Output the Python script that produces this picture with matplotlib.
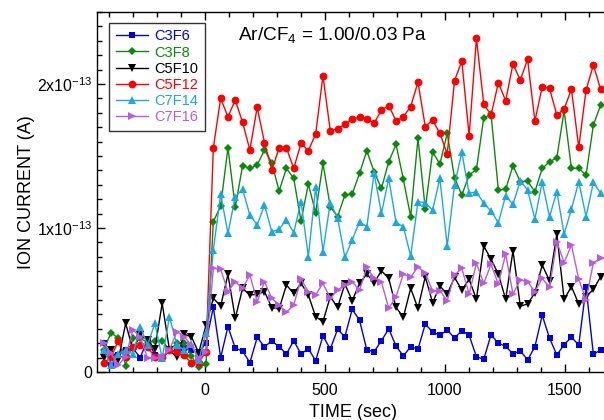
import numpy as np
import matplotlib
matplotlib.use("Agg")
import matplotlib.pyplot as plt
from matplotlib.ticker import MultipleLocator, FixedLocator, FixedFormatter

# -----------------------------
# 1. Data (ion current in units of 1e-13 A)
# -----------------------------

time_s = np.arange(69) * 30.5 - 424

c3f6 = [0.204, 0.049, 0.118, 0.153, 0.164, 0.100, 0.227, 0.118, 0.090, 0.153, 0.141, 0.164, 0.153, 0.130, 0.204,
        0.45, 0.10, 0.315, 0.165, 0.146, 0.065, 0.24, 0.176, 0.215, 0.176, 0.125, 0.217, 0.125, 0.162, 0.078,
        0.25, 0.16, 0.296, 0.245, 0.435, 0.36, 0.153, 0.141, 0.217, 0.30,
        0.18, 0.111, 0.176, 0.158, 0.333, 0.278, 0.255, 0.292, 0.236, 0.287,
        0.255, 0.106, 0.088, 0.259, 0.199, 0.18, 0.125, 0.148, 0.083, 0.176,
        0.394, 0.236, 0.118, 0.19, 0.241, 0.188, 0.588, 0.123, 0.153]

c3f8 = [0.153, 0.273, 0.234, 0.045, 0.234, 0.234, 0.204, 0.215, 0.217, 0.153, 0.199, 0.204, 0.111, 0.032, 0.056,
        1.044, 1.153, 1.558, 1.144, 1.433, 1.414, 1.438, 1.542, 1.454, 1.257, 1.414, 1.345, 1.049, 1.306, 1.106,
        1.449, 1.148, 1.079, 1.229, 1.236, 1.38, 1.535, 1.391, 1.275, 1.46,
        1.581, 1.338, 1.079, 1.623, 1.132, 1.53, 1.444, 1.657, 1.349, 1.229,
        1.368, 1.407, 1.766, 1.789, 1.264, 1.269, 1.433, 1.322, 1.326, 1.252,
        1.414, 1.46, 1.488, 1.815, 1.414, 1.414, 1.368, 1.715, 1.854]

c5f10 = [0.095, 0.153, 0.083, 0.338, 0.153, 0.257, 0.222, 0.16, 0.477, 0.153, 0.102, 0.262, 0.245, 0.134, 0.326,
         0.512, 0.458, 0.678, 0.373, 0.581, 0.535, 0.54, 0.558, 0.447, 0.438, 0.604, 0.546, 0.616, 0.535, 0.384,
         0.35, 0.523, 0.449, 0.611, 0.495, 0.616, 0.68, 0.62, 0.703, 0.65,
         0.449, 0.38, 0.581, 0.442, 0.662, 0.481, 0.597, 0.54, 0.658, 0.569,
         0.644, 0.505, 0.875, 0.783, 0.68, 0.505, 0.842, 0.458, 0.472, 0.551,
         0.743, 0.634, 0.958, 0.505, 0.593, 0.472, 0.523, 0.574, 0.662]

c5f12 = [0.065, 0.102, 0.217, 0.102, 0.171, 0.188, 0.171, 0.106, 0.106, 0.153, 0.139, 0.12, 0.06, 0.065, 0.141,
         1.558, 1.90, 1.773, 1.889, 1.734, 1.542, 1.838, 1.593, 1.403, 1.556, 1.556, 1.414, 1.588, 1.537, 1.653,
         2.058, 1.676, 1.69, 1.72, 1.757, 1.769, 1.757, 1.727, 1.819, 1.85,
         1.745, 1.773, 1.843, 2.012, 1.704, 1.75, 1.657, 1.514, 2.023, 2.16,
         1.641, 2.317, 1.861, 1.785, 2.009, 1.884, 2.139, 2.028, 2.171, 1.743,
         1.981, 1.97, 1.785, 1.826, 1.965, 1.56, 1.958, 2.132, 1.963]

c7f14 = [0.153, 0.049, 0.125, 0.153, 0.123, 0.315, 0.188, 0.338, 0.095, 0.384, 0.188, 0.153, 0.192, 0.083, 0.273,
         0.847, 1.236, 0.963, 1.218, 1.269, 1.09, 1.021, 1.16, 0.974, 0.991, 1.056, 0.968, 1.183, 0.801, 1.283,
         0.836, 1.176, 1.072, 0.796, 0.917, 1.044, 1.009, 1.38, 1.102, 1.345,
         1.039, 1.009, 0.806, 1.183, 1.176, 1.125, 1.345, 0.875, 1.299, 1.526,
         1.241, 1.252, 1.171, 1.118, 1.037, 1.224, 1.164, 1.329, 1.264, 1.063,
         1.317, 1.079, 1.252, 0.958, 1.132, 1.322, 1.079, 1.317, 1.241]

c7f16 = [0.199, 0.13, 0.049, 0.106, 0.292, 0.245, 0.095, 0.095, 0.106, 0.153, 0.28, 0.245, 0.188, 0.095, 0.141,
         0.72, 0.713, 0.558, 0.627, 0.581, 0.674, 0.488, 0.627, 0.512, 0.465, 0.415, 0.465, 0.646, 0.558, 0.535,
         0.616, 0.512, 0.569, 0.604, 0.627, 0.569, 0.727, 0.65, 0.627, 0.442,
         0.523, 0.68, 0.658, 0.731, 0.685, 0.565, 0.565, 0.495, 0.674, 0.72,
         0.542, 0.755, 0.616, 0.748, 0.609, 0.82, 0.542, 0.639, 0.627, 0.558,
         0.65, 0.588, 0.905, 0.759, 0.882, 0.644, 0.5, 0.759, 0.79]

series = [
    ("C3F6", c3f6, "#0000E6", "s", 4.8),
    ("C3F8", c3f8, "#0A8A0A", "D", 3.6),
    ("C5F10", c5f10, "#000000", "v", 5.6),
    ("C5F12", c5f12, "#FF0000", "o", 5.6),
    ("C7F14", c7f14, "#1BA8E0", "^", 5.6),
    ("C7F16", c7f16, "#B85CDC", ">", 5.6),
]

# -----------------------------
# 2. Figure
# -----------------------------

plt.rcParams["font.family"] = ["Liberation Sans", "DejaVu Sans"]
plt.rcParams["mathtext.fontset"] = "custom"
plt.rcParams["mathtext.rm"] = "Liberation Sans"

fig = plt.figure(figsize=(6.04, 4.2), dpi=100)
ax = fig.add_axes([0.1614, 0.1143, 0.845, 0.857])

for name, values, color, marker, size in series:
    ax.plot(
        time_s,
        np.array(values) * 1e-13,
        color=color,
        marker=marker,
        markersize=size,
        markeredgewidth=0,
        linewidth=1.0,
        label=name
    )

ax.set_xlim(-450, 1680)
ax.set_ylim(0, 2.5e-13)

ax.xaxis.set_major_locator(FixedLocator([0, 500, 1000, 1500]))
ax.xaxis.set_minor_locator(MultipleLocator(100))
ax.yaxis.set_major_locator(FixedLocator([0, 1e-13, 2e-13]))
ax.yaxis.set_major_formatter(FixedFormatter(["0", r"1x10$^{-13}$", r"2x10$^{-13}$"]))
ax.yaxis.set_minor_locator(MultipleLocator(1e-14))

ax.tick_params(which="both", direction="in", top=True, right=False, labelsize=11.5, width=1)
ax.tick_params(which="major", length=6)
ax.tick_params(which="minor", length=3.5)
ax.tick_params(axis="x", which="major", pad=8)
ax.tick_params(axis="y", which="major", pad=4)
for side in ["left", "bottom", "top"]:
    ax.spines[side].set_linewidth(1)
ax.spines["right"].set_visible(False)

ax.set_xlabel("TIME (sec)", fontsize=13, labelpad=4)
ax.set_ylabel("ION CURRENT (A)", fontsize=13, labelpad=1)

leg = ax.legend(
    loc="upper left",
    bbox_to_anchor=(0.0235, 0.97),
    fontsize=10.5,
    frameon=True,
    fancybox=False,
    edgecolor="black",
    handlelength=2.2,
    handletextpad=0.4,
    labelspacing=0.15,
    borderpad=0.45,
    borderaxespad=0
)
leg.get_frame().set_linewidth(1)
for text, (_, _, color, _, _) in zip(leg.get_texts(), series):
    text.set_color(color)

ax.text(0.275, 0.935, r"Ar/CF$_4$ = 1.00/0.03 Pa", transform=ax.transAxes,
        fontsize=13.7, va="center", ha="left")

plt.savefig("out.png", dpi=100)
plt.close()
